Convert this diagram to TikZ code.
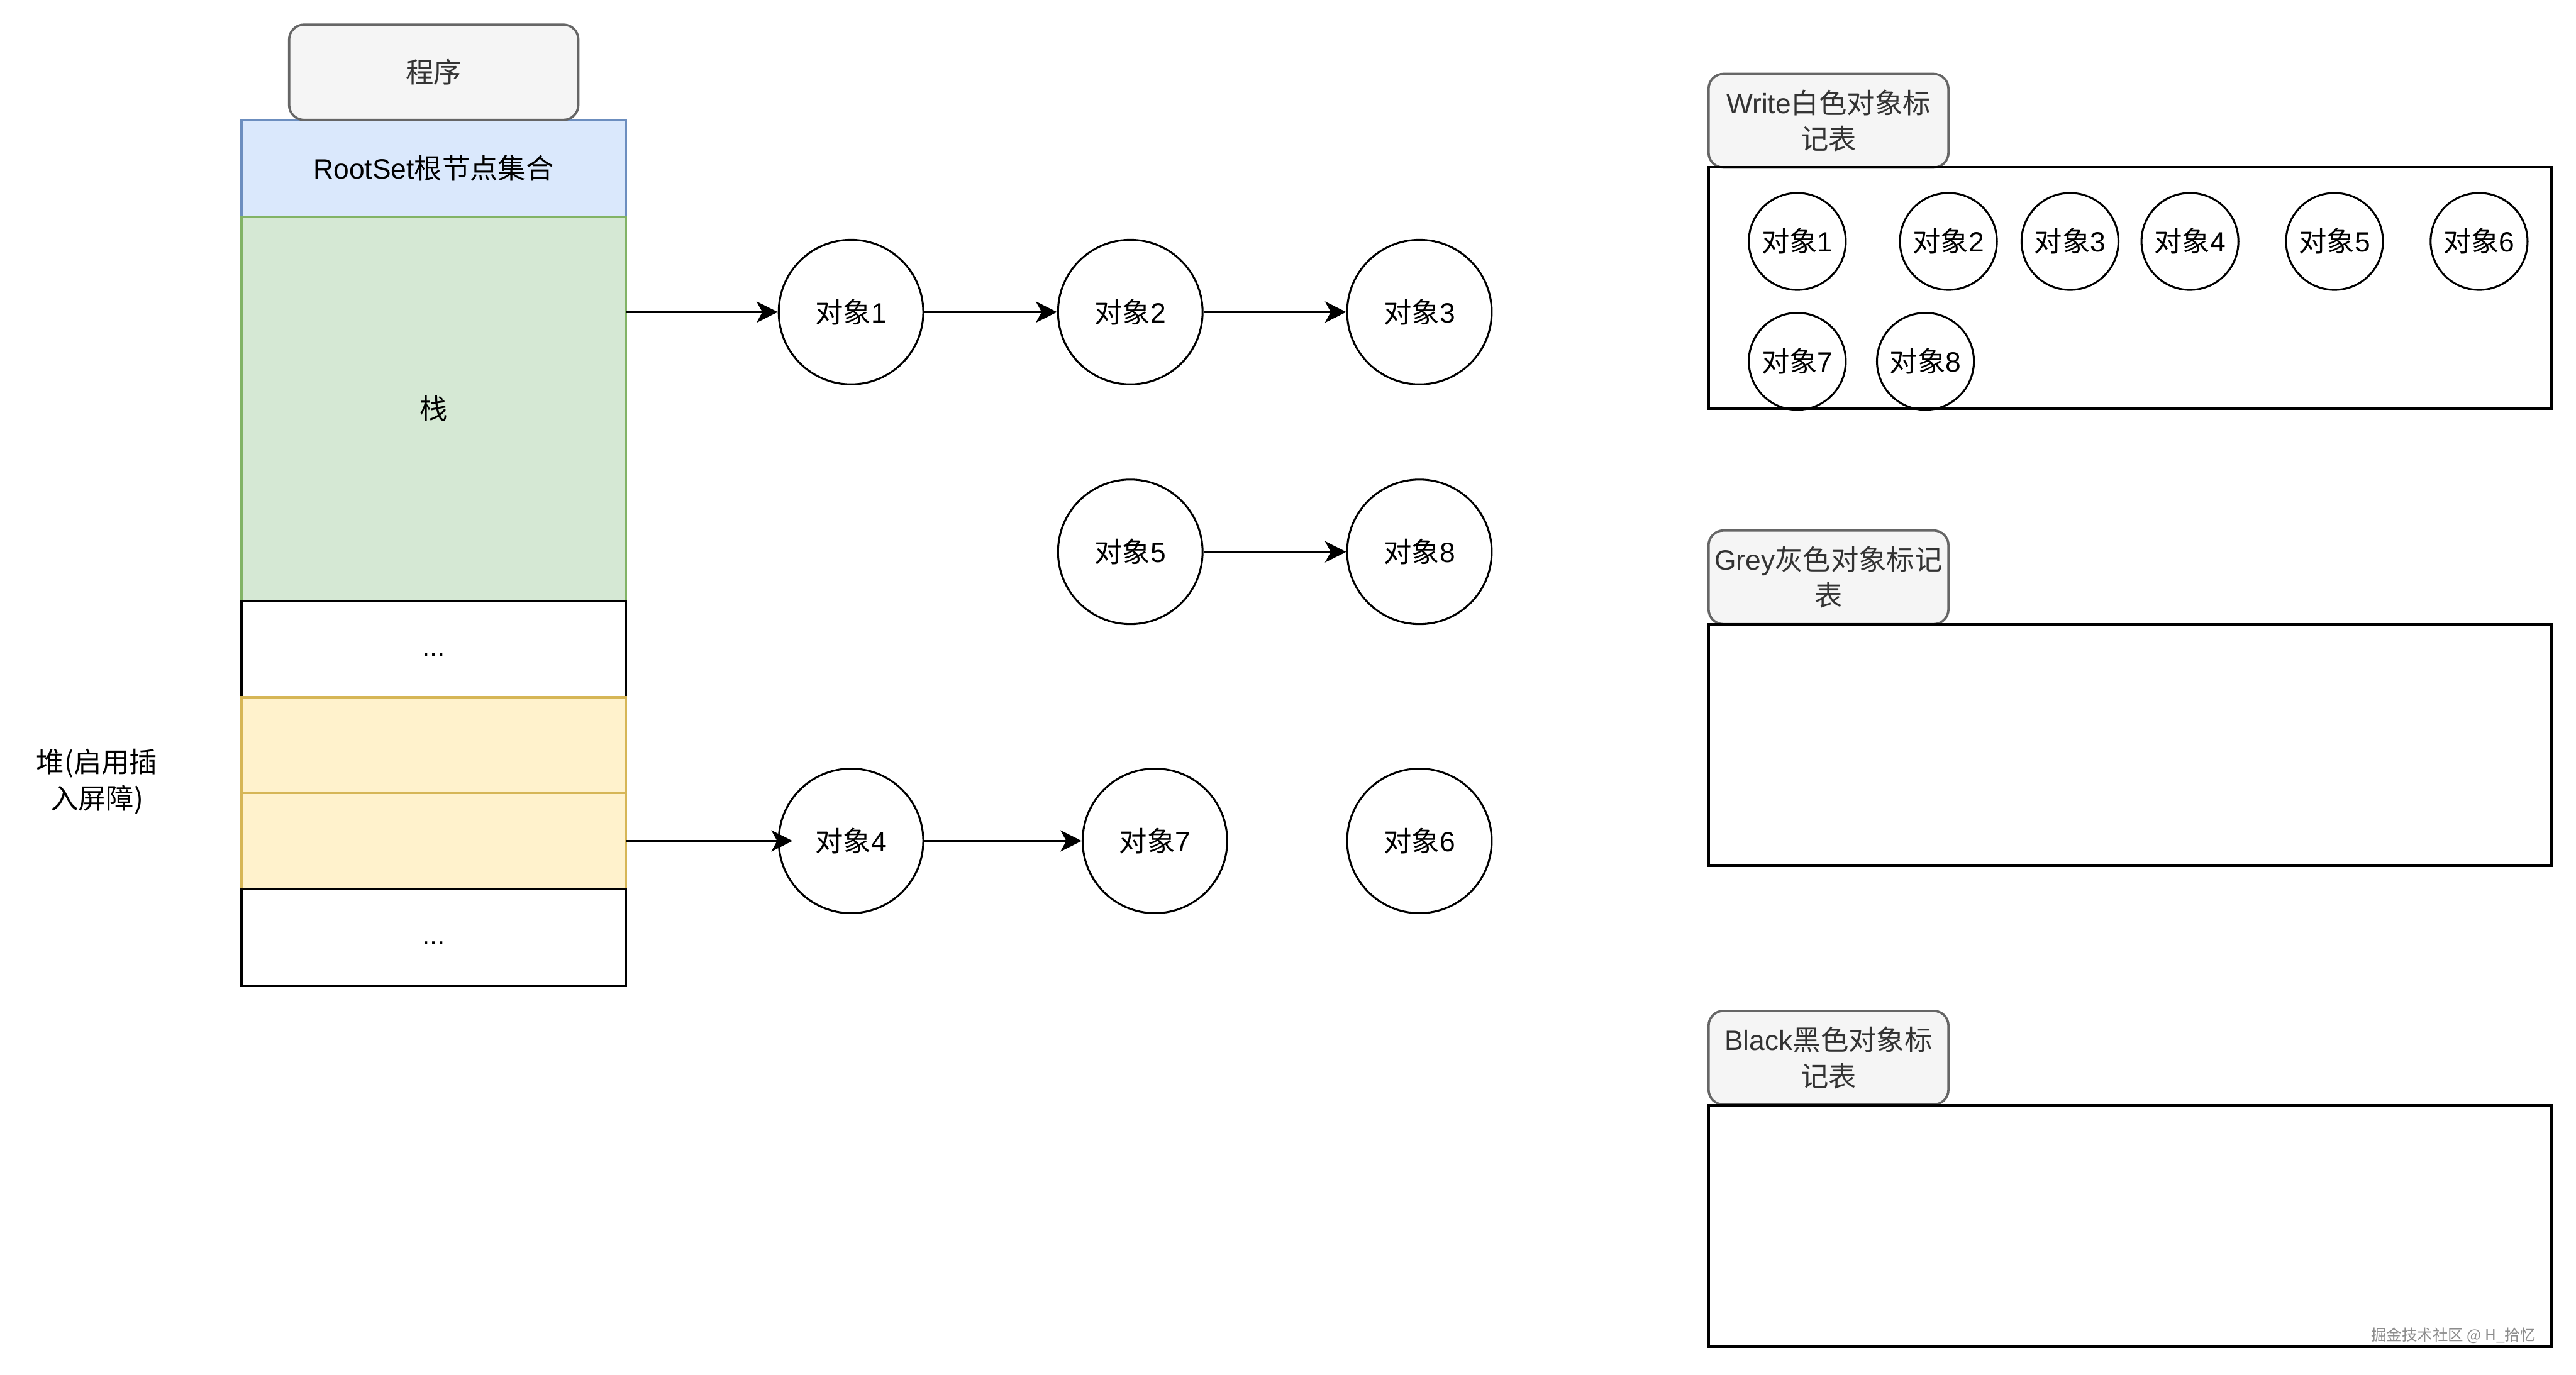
\documentclass[tikz,border=0pt]{standalone}
\usepackage{fontspec}
\setmainfont{Liberation Sans}
\newfontfamily\cjk{Noto Sans CJK SC}
\usepackage{tikz}
\usetikzlibrary{arrows.meta, positioning}

\definecolor{tagfill}{HTML}{F5F5F5}
\definecolor{tagdraw}{HTML}{666666}
\definecolor{tagtext}{HTML}{333333}
\definecolor{rootfill}{HTML}{DAE8FC}
\definecolor{rootdraw}{HTML}{6C8EBF}
\definecolor{stackfill}{HTML}{D5E8D4}
\definecolor{stackdraw}{HTML}{82B366}
\definecolor{heapfill}{HTML}{FFF2CC}
\definecolor{heapdraw}{HTML}{D6B656}

\newcommand{\zh}[1]{{\cjk #1}}
\newcommand{\objtxt}[1]{\zh{对象}#1}

\begin{document}
\begin{tikzpicture}[
    x=0.03cm, y=-0.03cm,
    line width=1.2pt,
    >={Stealth[length=11pt, width=11pt, inset=3pt]},
    font=\fontsize{14.5}{18.8}\selectfont,
    tag/.style={draw=tagdraw, fill=tagfill, text=tagtext, rounded corners=0.27cm, align=center, inner sep=0pt, outer sep=0pt},
    cell/.style={draw, rectangle, minimum width=7.02cm, inner sep=0pt, outer sep=0pt},
    obj/.style={draw, circle, line width=1pt, minimum size=2.64cm, inner sep=0pt},
    smallobj/.style={draw, circle, line width=1pt, minimum size=1.77cm, inner sep=0pt},
    marktab/.style={draw, line width=1.3pt, rectangle, minimum width=15.39cm, minimum height=4.41cm, inner sep=0pt, outer sep=0pt},
]
    \useasboundingbox (0,0) rectangle (1568,837);

    % memory column
    \node[cell, fill=rootfill, draw=rootdraw, minimum height=1.76cm] (root) at (264,102.5) {RootSet\zh{根节点集合}};
    \node[cell, fill=stackfill, draw=stackdraw, minimum height=7.02cm, below=0pt of root] (stack) {\zh{栈}};
    \node[cell, fill=white, minimum height=1.76cm, below=0pt of stack] (gap1) {\strut...};
    \node[cell, fill=heapfill, draw=heapdraw, minimum height=1.75cm, below=0pt of gap1] (heapa) {};
    \node[cell, fill=heapfill, draw=heapdraw, minimum height=1.75cm, below=0pt of heapa] (heapb) {};
    \node[cell, fill=white, minimum height=1.77cm, below=0pt of heapb] (gap2) {\strut...};
    \node[tag, minimum width=5.28cm, minimum height=1.74cm] (prog) at (264,44) {\zh{程序}};
    \node[align=center] (heaplbl) at (59,476) {\zh{堆(启用插}\\\zh{入屏障)}};

    % objects
    \node[obj] (o1) at (518,190) {\objtxt{1}};
    \node[obj] (o2) at (688,190) {\objtxt{2}};
    \node[obj] (o3) at (864,190) {\objtxt{3}};
    \node[obj] (o5) at (688,336) {\objtxt{5}};
    \node[obj] (o8) at (864,336) {\objtxt{8}};
    \node[obj] (o4) at (518,512) {\objtxt{4}};
    \node[obj] (o7) at (703,512) {\objtxt{7}};
    \node[obj] (o6) at (864,512) {\objtxt{6}};

    \draw[->] (stack.east |- o1) -- (o1);
    \draw[->] (o1) -- (o2);
    \draw[->] (o2) -- (o3);
    \draw[->] (o5) -- (o8);
    \draw[->, shorten >=-0.27cm] (heapb.east |- o4) -- (o4);
    \draw[->] (o4) -- (o7);

    % mark tables
    \node[tag, minimum width=4.38cm, minimum height=1.71cm] (whitetag) at (1113,73.5) {Write\zh{白色对象标}\\\zh{记表}};
    \node[marktab] (whitetab) at (1296.5,175.5) {};
    \node[tag, minimum width=4.38cm, minimum height=1.71cm] (greytag) at (1113,351.5) {Grey\zh{灰色对象标记}\\\zh{表}};
    \node[marktab] (greytab) at (1296.5,453.5) {};
    \node[tag, minimum width=4.38cm, minimum height=1.71cm] (blacktag) at (1113,644) {Black\zh{黑色对象标}\\\zh{记表}};
    \node[marktab] (blacktab) at (1296.5,746.5) {};

    \node[smallobj] (w1) at (1094,147) {\objtxt{1}};
    \node[smallobj] (w2) at (1186,147) {\objtxt{2}};
    \node[smallobj] (w3) at (1260,147) {\objtxt{3}};
    \node[smallobj] (w4) at (1333,147) {\objtxt{4}};
    \node[smallobj] (w5) at (1421,147) {\objtxt{5}};
    \node[smallobj] (w6) at (1509,147) {\objtxt{6}};
    \node[smallobj] (w7) at (1094,220) {\objtxt{7}};
    \node[smallobj] (w8) at (1172,220) {\objtxt{8}};

    \node[anchor=east, text=black!45, font=\cjk\fontsize{8}{10}\selectfont] (wm) at (1548,813) {掘金技术社区 @ H\_拾忆};
\end{tikzpicture}
\end{document}
